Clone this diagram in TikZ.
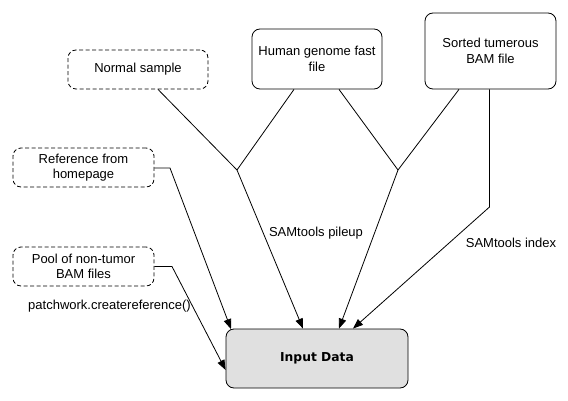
\documentclass[tikz,border=0pt]{standalone}
\usepackage{fontspec}
\setmainfont{Liberation Sans}
\newfontfamily\boldfont{DejaVu Sans}
\usetikzlibrary{arrows.meta,calc}
\tikzset{
  box/.style={draw, line width=0.8pt, rounded corners=8pt, align=center, inner sep=0pt,
    font=\fontsize{13pt}{15.5pt}\selectfont},
  dbox/.style={box, dash pattern=on 4pt off 2.5pt},
  conn/.style={line width=0.8pt},
  arr/.style={conn, -{Triangle[length=10pt,width=7.5pt]}},
  lbl/.style={font=\fontsize{13pt}{15.5pt}\selectfont, inner sep=0pt}
}
\begin{document}
\begin{tikzpicture}[x=1pt,y=-1pt]
\path[use as bounding box, fill=white] (0,0) rectangle (568,401);

\node[dbox, minimum width=140pt, minimum height=39pt] (normal) at (138,69.5) {Normal sample};
\node[box, minimum width=130pt, minimum height=60pt] (human) at (317,59) {Human genome fast\\file};
\node[box, minimum width=131pt, minimum height=76pt] (sorted) at (490.5,51) {Sorted tumerous\\BAM file};
\node[dbox, minimum width=141pt, minimum height=39pt] (ref) at (83.5,167.5) {Reference from\\homepage};
\node[dbox, minimum width=141pt, minimum height=39pt] (pool) at (83.5,266.5) {Pool of non-tumor\\BAM files};
\node[box, fill=black!12, minimum width=182pt, minimum height=59pt,
  font=\boldfont\bfseries\fontsize{12.3pt}{14pt}\selectfont] (input) at (317,358.5) {Input Data};

\coordinate (j1) at (237,170);
\coordinate (j2) at (398,170);
\coordinate (sbend) at (489.5,207);
\coordinate (rbend) at (170,168);
\coordinate (pbend) at (172,266.5);

\draw[conn] ([xshift=20pt]normal.south) -- (j1);
\draw[conn] ([xshift=-23pt]human.south) -- (j1);
\draw[conn] ([xshift=22pt]human.south) -- (j2);
\draw[conn] ([xshift=-31.5pt]sorted.south) -- (j2);

\draw[arr] (j1) -- ([xshift=-14pt]input.north);
\draw[arr] (j2) -- ([xshift=22pt]input.north);
\draw[arr] ([xshift=-1pt]sorted.south) -- (sbend) -- ([xshift=36pt]input.north);
\draw[arr] (ref.east |- rbend) -- (rbend) -- ([xshift=-86pt,yshift=-0.5pt]input.north);
\draw[arr] (pool.east) -- (pbend) -- ([yshift=-11.5pt]input.west);

\node[lbl] (pileup) at (316,233) {SAMtools pileup};
\node[lbl] (index) at (511,243) {SAMtools index};
\node[lbl] (patch) at (109.5,306) {patchwork.createreference()};
\end{tikzpicture}
\end{document}
